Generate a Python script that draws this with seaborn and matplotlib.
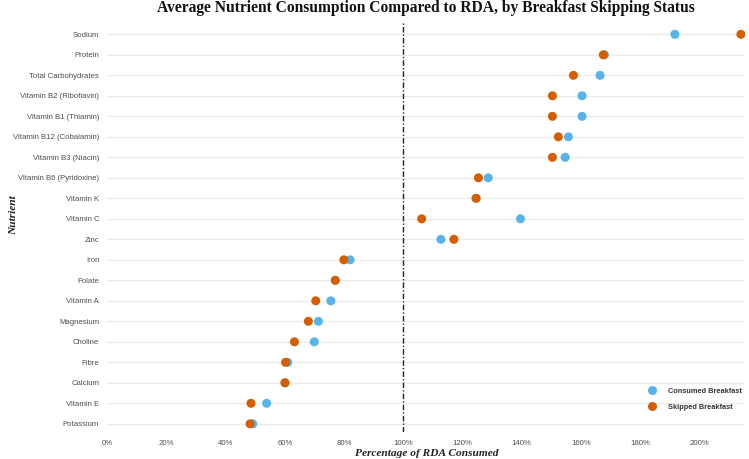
import matplotlib
matplotlib.use("Agg")
import matplotlib.pyplot as plt
import seaborn as sns
import pandas as pd

nutrients = ["Sodium", "Protein", "Total Carbohydrates", "Vitamin B2 (Riboflavin)",
             "Vitamin B1 (Thiamin)", "Vitamin B12 (Cobalamin)", "Vitamin B3 (Niacin)",
             "Vitamin B6 (Pyridoxine)", "Vitamin K", "Vitamin C", "Zinc", "Iron", "Folate",
             "Vitamin A", "Magnesium", "Choline", "Fibre", "Calcium", "Vitamin E", "Potassium"]
consumed = [191.8, 168.0, 166.5, 160.4, 160.4, 155.8, 154.7, 128.7, 124.6, 139.6,
            112.7, 82.0, 77.0, 75.5, 71.3, 69.9, 60.9, 60.0, 53.8, 49.1]
skipped = [214.1, 167.6, 157.5, 150.4, 150.4, 152.4, 150.4, 125.4, 124.6, 106.2,
           117.1, 79.9, 77.0, 70.4, 67.9, 63.2, 60.2, 60.0, 48.5, 48.2]
groups = ["Consumed Breakfast", "Skipped Breakfast"]
colors = ["#56B4E9", "#D55E00"]
xticks = [0, 20, 40, 60, 80, 100, 120, 140, 160, 180, 200]

df = pd.DataFrame({
    "Nutrient": nutrients * 2,
    "Pct": consumed + skipped,
    "Group": [groups[0]] * len(nutrients) + [groups[1]] * len(nutrients),
})

sns.set_theme(style="white")
fig = plt.figure(figsize=(7.49, 4.59), dpi=100)
ax = fig.add_axes([0.1435, 0.0588, 0.8512, 0.8932])

for i in range(len(nutrients)):
    ax.axhline(i, color="#ebebeb", lw=1.0, zorder=0)

sns.scatterplot(data=df, x="Pct", y="Nutrient", hue="Group", hue_order=groups,
                palette=colors, s=42, edgecolor="none", linewidth=0, ax=ax, zorder=3,
                legend=True)

ax.axvline(100, color="#222222", lw=1.0, linestyle=(0, (4, 1.5, 1, 1.5)), zorder=2)

ax.set_xlim(0, 215.5)
ax.set_ylim(19.4, -0.6)
ax.set_xticks(xticks)
ax.set_xticklabels([f"{t}%" for t in xticks])
ax.tick_params(axis="both", length=0, labelsize=5.6, labelcolor="#4d4d4d", pad=6)
for lbl in ax.get_yticklabels() + ax.get_xticklabels():
    lbl.set_fontfamily("Liberation Sans")
for s in ax.spines.values():
    s.set_visible(False)
ax.grid(False)

ax.set_xlabel("Percentage of RDA Consumed", fontsize=8.2, fontstyle="italic",
              fontweight="bold", family="Liberation Serif", color="#222222", labelpad=1)
ax.set_ylabel("Nutrient", fontsize=8.2, fontstyle="italic", fontweight="bold",
              family="Liberation Serif", color="#222222")
ax.yaxis.set_label_coords(-0.14, 0.53)
fig.text(0.569, 1 - 8 / 459,
         "Average Nutrient Consumption Compared to RDA, by Breakfast Skipping Status",
         fontsize=11.2, fontweight="bold", family="Liberation Serif", color="#111111",
         ha="center", va="center")

leg = ax.legend(loc="lower right", bbox_to_anchor=(1.005, 0.035), frameon=False,
                fontsize=5.3, handletextpad=1.1, labelspacing=1.25, markerscale=1.0)
for t in leg.get_texts():
    t.set_fontweight("bold")
    t.set_color("#333333")
    t.set_fontfamily("Liberation Sans")

fig.savefig("out.png", dpi=100)
